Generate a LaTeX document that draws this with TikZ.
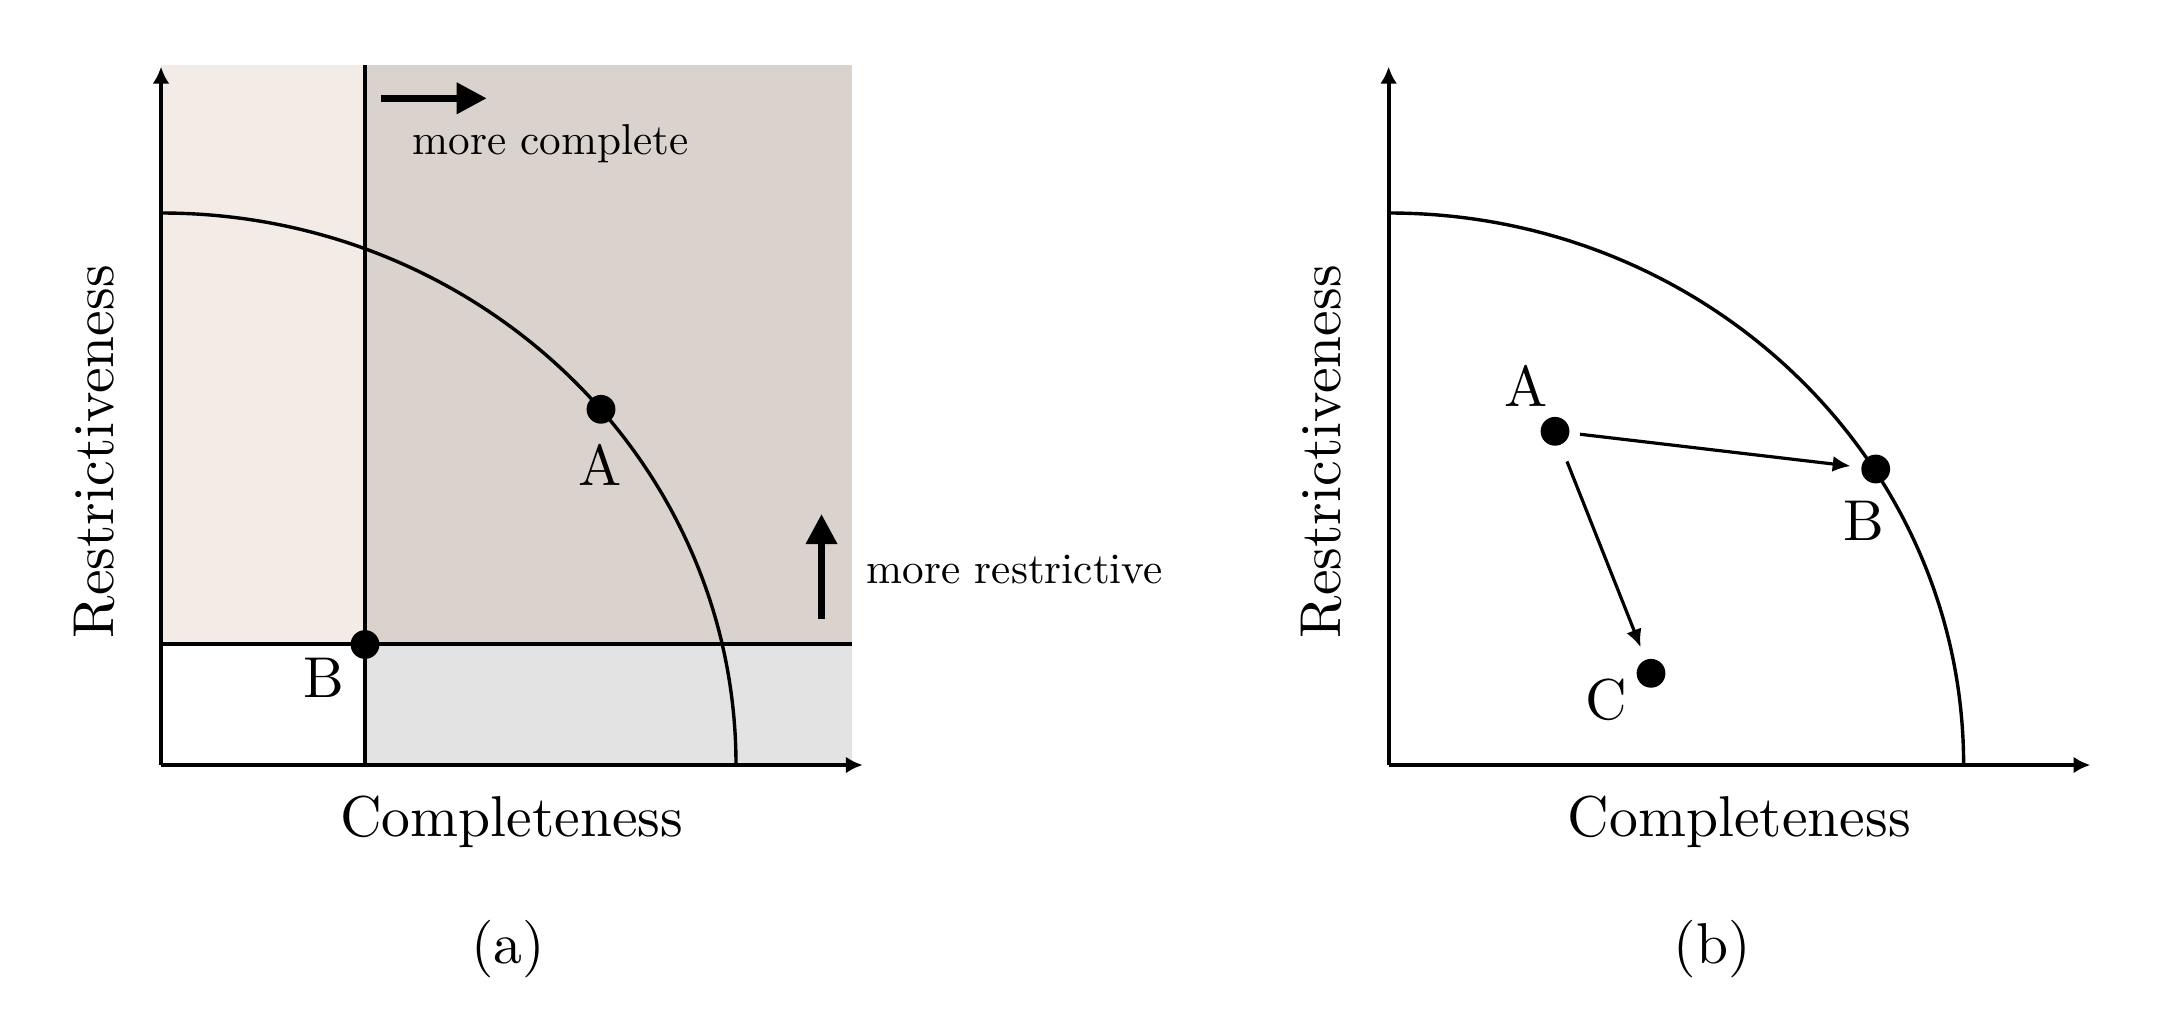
\documentclass[tikz,border=0pt]{standalone}
\usetikzlibrary{arrows.meta}
\definecolor{stripL}{HTML}{F2EBE6}
\definecolor{regTR}{HTML}{DAD2CD}
\definecolor{regBR}{HTML}{E3E3E3}
\begin{document}
\begin{tikzpicture}[x=0.25pt,y=-0.25pt,
  ax/.style={line width=0.95pt,-{Latex[length=4.2pt,width=4.2pt]}},
  ln/.style={line width=0.9pt},
  curv/.style={line width=0.85pt},
  dot/.style={circle,fill=black,inner sep=0pt,minimum size=7.2pt},
  big/.style={font=\fontsize{10}{12}\selectfont,scale=1.44,inner sep=0pt},
  small/.style={font=\fontsize{10}{12}\selectfont,scale=1.08,inner sep=0pt},
  bigarrow/.style={line width=1.67pt,-{Triangle[length=7.5pt,width=7.5pt]}},
  thinarrow/.style={line width=0.8pt,-{Latex[length=4.5pt,width=4pt]}}]
\useasboundingbox (0,0) rectangle (2158,1028);

% ---------- panel (a) ----------
\fill[stripL] (161,65) rectangle (365,644);
\fill[regTR] (365,65) rectangle (852,644);
\fill[regBR] (365,644) rectangle (852,765);

\draw[curv] (161,213) .. controls (478.6,213) and (736,460.1) .. (736,765);
\draw[ln] (365,65) -- (365,765);
\draw[ln] (161,644) -- (852,644);

\coordinate (aO) at (161,765);
\coordinate (aY) at (161,66.7);
\coordinate (aX) at (862.7,765);
\draw[ax] (aO) -- (aY);
\draw[ax] (aO) -- (aX);

\coordinate (mcS) at (380.7,98.3);
\coordinate (mcE) at (486.7,98.3);
\draw[bigarrow] (mcS) -- (mcE);
\coordinate (mrS) at (821.5,619.3);
\coordinate (mrE) at (821.5,514);
\draw[bigarrow] (mrS) -- (mrE);

\node[small,anchor=base] (tmc) at (550.5,154) {more complete};
\node[small,anchor=base west] (tmr) at (866,583) {more restrictive};

\node[dot] (aA) at (601,409.3) {};
\node[dot] (aB) at (365,644.5) {};
\node[big,anchor=base] (laA) at (600,485) {A};
\node[big,anchor=base] (laB) at (324.3,697.3) {B};

\node[big,anchor=base] (xa) at (511.7,836.7) {Completeness};
\node[big,anchor=base,rotate=90] (ya) at (113,451.7) {Restrictiveness};
\node[big,anchor=base] (capa) at (507.8,963) {(a)};

% ---------- panel (b) ----------
\draw[curv] (1388.6,213) .. controls (1706.2,213) and (1963.6,460.1) .. (1963.6,765);
\coordinate (bO) at (1388.6,765);
\coordinate (bY) at (1388.6,66.7);
\coordinate (bX) at (2090.3,765);
\draw[ax] (bO) -- (bY);
\draw[ax] (bO) -- (bX);

\node[dot] (bA) at (1555,431.3) {};
\node[dot] (bB) at (1875.7,469) {};
\node[dot] (bC) at (1651,673.3) {};
\node[big,anchor=base] (lbA) at (1526,406.7) {A};
\node[big,anchor=base] (lbB) at (1864.3,540) {B};
\node[big,anchor=base] (lbC) at (1606,719) {C};

\draw[thinarrow,shorten <=2.5pt,shorten >=2.5pt] (bA) -- (bB);
\draw[thinarrow,shorten <=4.3pt,shorten >=3.2pt] (bA) -- (bC);

\node[big,anchor=base] (xb) at (1739.3,836.7) {Completeness};
\node[big,anchor=base,rotate=90] (yb) at (1340,451.7) {Restrictiveness};
\node[big,anchor=base] (capb) at (1712,963) {(b)};
\end{tikzpicture}
\end{document}
